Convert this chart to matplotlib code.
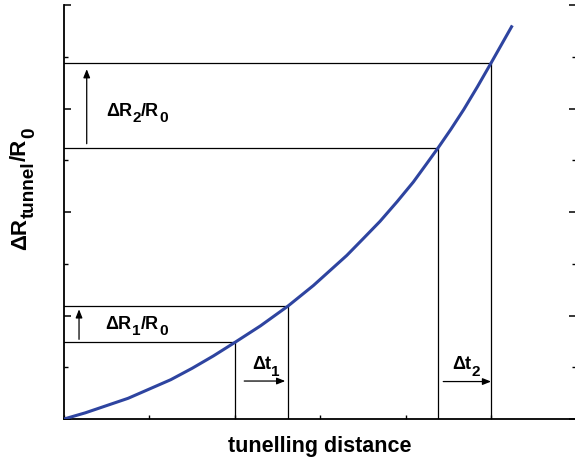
import matplotlib
matplotlib.use('Agg')
import matplotlib.pyplot as plt
from matplotlib.ticker import MultipleLocator
from matplotlib.transforms import offset_copy

plt.rcParams['font.family'] = ['Liberation Sans', 'DejaVu Sans']

# curve (distance and dR/R0 in tick units)
dist = [0, 0.25, 0.5, 0.75, 1.0, 1.25, 1.5, 1.75, 2.0, 2.3, 2.62, 2.92, 3.31,
        3.5, 3.70, 3.9, 4.09, 4.24, 4.38, 4.53, 4.68, 4.84, 5.0, 5.24]
resist = [0, 0.06, 0.13, 0.20, 0.29, 0.38, 0.49, 0.61, 0.74, 0.90, 1.09, 1.29, 1.58,
          1.74, 1.91, 2.10, 2.29, 2.46, 2.62, 2.80, 2.99, 3.21, 3.44, 3.79]

# the two distance steps and their resistance levels
t1 = [2.0, 2.62]
r1 = [0.74, 1.09]
t2 = [4.38, 5.0]
r2 = [2.62, 3.44]

fig = plt.figure(figsize=(5.75, 4.59), dpi=100)
ax = fig.add_axes([0.1113, 0.0871, 0.8913, 0.902])


def rich_text(x, y, parts, size, transform, rotation=0, **kw):
    # draws text with big, low subscripts piece by piece
    renderer = fig.canvas.get_renderer()
    pos = 0.0
    for s, sub in parts:
        fs = size * 0.85 if sub else size
        drop = 0.36 * size if sub else 0.0
        if rotation == 0:
            ox, oy = pos, -drop
        else:
            ox, oy = drop, pos
        tr = offset_copy(transform, fig=fig, x=ox, y=oy, units='points')
        t = ax.text(x, y, s, transform=tr, fontsize=fs, rotation=rotation,
                    rotation_mode='anchor', ha='left', va='baseline',
                    clip_on=False, **kw)
        bb = t.get_window_extent(renderer)
        length = bb.width if rotation == 0 else bb.height
        pos += length * 72 / fig.dpi + 0.3


ax.plot(dist, resist, color='#2e44a0', lw=2.2, zorder=3,
        solid_joinstyle='round')

# guide lines to the axes
for t, r in zip(t1 + t2, r1 + r2):
    ax.plot([0, t, t], [r, r, 0], color='black', lw=0.9, zorder=2)

arrow = dict(arrowstyle='-|>,head_length=0.5,head_width=0.2', color='black', lw=0.9,
             shrinkA=0, shrinkB=0)
ax.annotate('', xy=(0.266, 3.38), xytext=(0.266, 2.66), arrowprops=arrow)
ax.annotate('', xy=(0.176, 1.06), xytext=(0.176, 0.77), arrowprops=arrow)
ax.annotate('', xy=(2.59, 0.367), xytext=(2.11, 0.367), arrowprops=arrow)
ax.annotate('', xy=(5.0, 0.362), xytext=(4.44, 0.362), arrowprops=arrow)

ax.set_xlim(0, 6)
ax.set_ylim(0, 4)
ax.xaxis.set_major_locator(MultipleLocator(1))
ax.yaxis.set_major_locator(MultipleLocator(1))
ax.yaxis.set_minor_locator(MultipleLocator(0.5))

ax.tick_params(axis='x', which='both', direction='in', length=3, width=1.0,
               bottom=True, top=False, labelbottom=False)
ax.tick_params(axis='y', which='major', direction='in', length=5, width=1.1,
               left=True, right=True, labelleft=False)
ax.tick_params(axis='y', which='minor', direction='in', length=2.7, width=1.0,
               left=True, right=True)

ax.spines['top'].set_visible(False)
ax.spines['right'].set_visible(False)
ax.spines['left'].set_linewidth(1.3)
ax.spines['bottom'].set_linewidth(1.3)

ax.set_xlabel('tunelling distance', fontsize=15.5, fontweight='bold')
ax.xaxis.set_label_coords(0.5, -0.042)

rich_text(0.49, 2.93, [('ΔR', False), ('2', True), ('/R', False), ('0', True)],
          13, ax.transData, weight='bold')
rich_text(0.48, 0.87, [('ΔR', False), ('1', True), ('/R', False), ('0', True)],
          13, ax.transData, weight='bold')
rich_text(2.20, 0.483, [('Δt', False), ('1', True)], 13, ax.transData, weight='bold')
rich_text(4.54, 0.483, [('Δt', False), ('2', True)], 13, ax.transData, weight='bold')
rich_text(-0.074, 0.408, [('ΔR', False), ('tunnel', True), ('/R', False), ('0', True)],
          16, ax.transAxes, rotation=90, weight='bold')

fig.savefig('out.png', dpi=100)
